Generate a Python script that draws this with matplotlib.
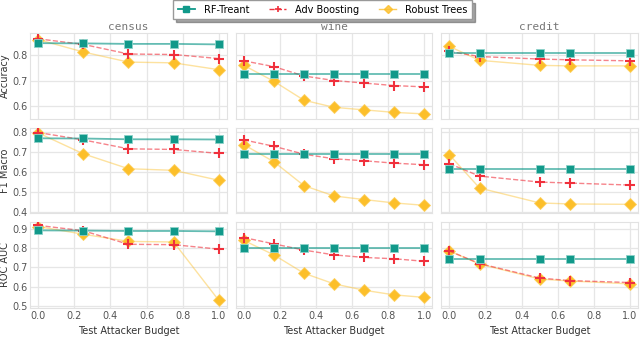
import matplotlib
matplotlib.use("Agg")
import matplotlib.pyplot as plt
from matplotlib.lines import Line2D

# datasets and x positions (test attacker budget)
datasets = ["census", "wine", "credit"]
budgets = {
    "census": [0.0, 0.25, 0.5, 0.75, 1.0],
    "wine": [0.0, 1/6, 1/3, 0.5, 2/3, 5/6, 1.0],
    "credit": [0.0, 1/6, 0.5, 2/3, 1.0],
}
metrics = ["Accuracy", "F1 Macro", "ROC AUC"]

# RF-Treant
rf_acc = {"census": [.848, .847, .845, .845, .843],
          "wine": [.727] * 7,
          "credit": [.810, .810, .810, .810, .810]}
rf_f1 = {"census": [.768, .767, .763, .763, .762],
         "wine": [.688] * 7,
         "credit": [.615, .615, .615, .615, .615]}
rf_auc = {"census": [.892, .891, .889, .889, .887],
          "wine": [.802] * 7,
          "credit": [.745, .745, .745, .745, .745]}

# Adv Boosting
adv_acc = {"census": [.865, .843, .805, .803, .787],
           "wine": [.778, .755, .718, .700, .690, .680, .675],
           "credit": [.815, .795, .785, .782, .778]}
adv_f1 = {"census": [.797, .760, .715, .712, .692],
          "wine": [.760, .728, .688, .665, .655, .643, .635],
          "credit": [.640, .578, .548, .543, .533]}
adv_auc = {"census": [.918, .890, .820, .818, .795],
           "wine": [.855, .822, .790, .765, .752, .745, .732],
           "credit": [.785, .720, .645, .632, .622]}

# Robust Trees
rt_acc = {"census": [.862, .813, .773, .770, .743],
          "wine": [.760, .697, .622, .594, .584, .574, .568],
          "credit": [.835, .780, .760, .758, .758]}
rt_f1 = {"census": [.795, .690, .615, .607, .557],
         "wine": [.736, .650, .530, .478, .460, .443, .431],
         "credit": [.685, .518, .443, .438, .436]}
rt_auc = {"census": [.912, .872, .835, .832, .530],
          "wine": [.840, .765, .670, .615, .582, .558, .545],
          "credit": [.785, .718, .640, .630, .615]}

rows = [(rf_acc, adv_acc, rt_acc), (rf_f1, adv_f1, rt_f1), (rf_auc, adv_auc, rt_auc)]
ylims = [(0.548, 0.888), (0.39, 0.822), (0.49, 0.935)]
yticks = [[0.6, 0.7, 0.8], [0.4, 0.5, 0.6, 0.7, 0.8], [0.5, 0.6, 0.7, 0.8, 0.9]]

teal = "#11998a"
red = "#f0303c"
gold = "#fcbf2a"
gray = "#555555"

fig, axes = plt.subplots(3, 3, figsize=(6.4, 3.37), dpi=100, sharex=True)
fig.subplots_adjust(left=0.047, right=0.997, top=0.902, bottom=0.086,
                    wspace=0.045, hspace=0.1)

for r in range(3):
    rf, adv, rt = rows[r]
    for c, ds in enumerate(datasets):
        ax = axes[r, c]
        x = budgets[ds]
        ax.plot(x, rt[ds], color=gold, alpha=0.45, lw=1, zorder=2)
        ax.plot(x, rt[ds], ls="none", marker="D", ms=6.5, color=gold,
                mec="#fcd060", mew=0.6, zorder=3)
        ax.plot(x, adv[ds], color=red, alpha=0.6, lw=1, ls="--", zorder=4)
        ax.plot(x, adv[ds], ls="none", marker="+", ms=7, mew=1.5, color=red,
                zorder=5)
        ax.plot(x, rf[ds], color=teal, alpha=0.65, lw=1.3, zorder=6)
        ax.plot(x, rf[ds], ls="none", marker="s", ms=6, color=teal,
                mec="#8fd3ca", mew=0.6, zorder=7)
        ax.set_ylim(*ylims[r])
        ax.set_yticks(yticks[r])
        ax.set_xlim(-0.045, 1.045)
        ax.set_xticks([0, 0.2, 0.4, 0.6, 0.8, 1.0])
        ax.grid(True, color="#e6e6e6", lw=0.9)
        ax.set_axisbelow(True)
        for s in ax.spines.values():
            s.set_color("#e2e2e2")
            s.set_linewidth(0.8)
        ax.tick_params(length=0, labelsize=7, colors=gray, pad=2)
        if c > 0:
            ax.tick_params(labelleft=False)
        else:
            ax.set_ylabel(metrics[r], fontsize=7, color="#333333")
            ax.yaxis.set_label_coords(-0.1, 0.5)
        if r == 0:
            ax.set_title(ds, fontsize=8, family="DejaVu Sans Mono",
                         color="#777777", pad=2)
        if r == 2:
            ax.set_xlabel("Test Attacker Budget", fontsize=7, color="#333333",
                          labelpad=4)

leg_handles = [
    Line2D([], [], color=teal, marker="s", ms=4, lw=1.3),
    Line2D([], [], color=red, marker="+", ms=5, mew=1.2, ls="--", lw=1),
    Line2D([], [], color=gold, marker="D", ms=4, alpha=0.8, lw=1),
]
fig.legend(leg_handles, ["RF-Treant", "Adv Boosting", "Robust Trees"],
           loc="upper center", bbox_to_anchor=(0.504, 1.0), ncol=3,
           fontsize=7, frameon=True, shadow=True, fancybox=False,
           edgecolor="#999999", columnspacing=2.0, handlelength=1.8,
           handletextpad=0.9, borderpad=0.45, borderaxespad=0.05)

fig.savefig("out.png", dpi=100)
